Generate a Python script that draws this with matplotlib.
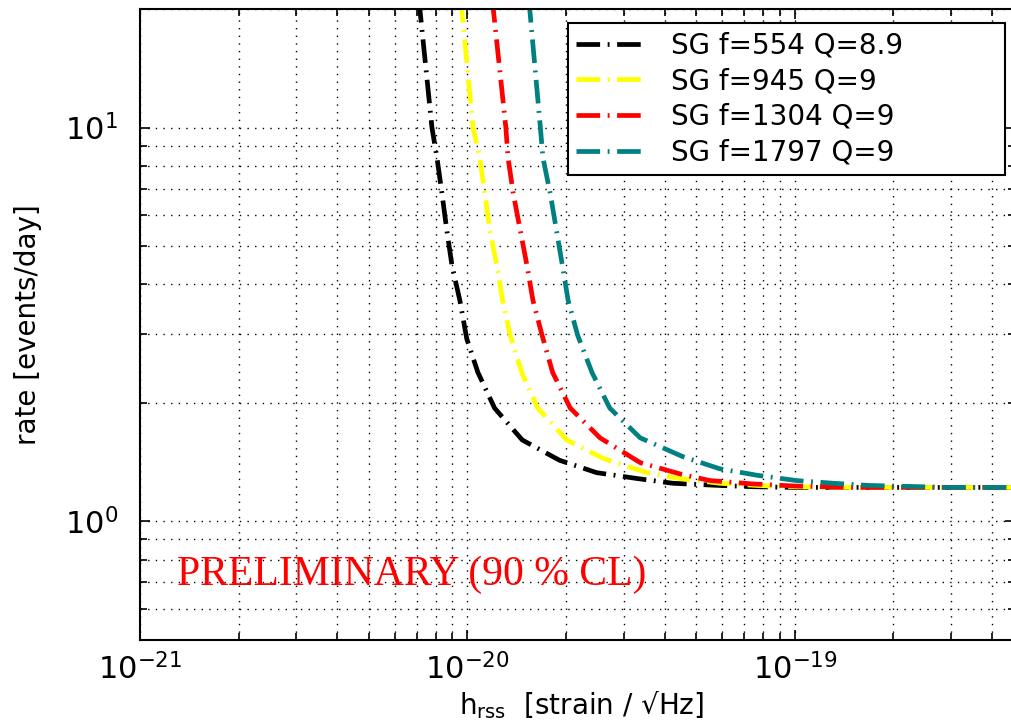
import matplotlib
matplotlib.use("Agg")
import matplotlib.pyplot as plt
from matplotlib.ticker import LogLocator, NullFormatter, FixedLocator

plt.rcParams['mathtext.fontset'] = 'dejavusans'
plt.rcParams['font.family'] = ['DejaVu Sans']

# ---- data ----
x_black = [6.95e-21, 7.16e-21, 7.79e-21, 8.07e-21, 8.36e-21, 8.65e-21, 8.97e-21, 9.48e-21,
           9.95e-21, 1.076e-20, 1.21e-20, 1.47e-20, 1.91e-20, 2.48e-20, 3.30e-20, 4.24e-20,
           5.9e-20, 7.45e-20, 1.0e-19, 2.0e-19, 4.8e-19]
y_black = [25, 19.9, 10, 8.39, 6.80, 5.48, 4.46, 3.64,
           2.91, 2.39, 1.94, 1.61, 1.43, 1.33, 1.285, 1.25,
           1.234, 1.225, 1.22, 1.22, 1.22]

x_yellow = [9.35e-21, 9.61e-21, 1.04e-20, 1.09e-20, 1.13e-20, 1.17e-20, 1.23e-20, 1.28e-20,
            1.35e-20, 1.47e-20, 1.64e-20, 2.01e-20, 2.60e-20, 3.53e-20, 4.46e-20, 5.9e-20,
            7.66e-20, 1.0e-19, 1.5e-19, 4.8e-19]
y_yellow = [25, 19.9, 10, 8.39, 6.80, 5.48, 4.46, 3.64,
            2.97, 2.37, 1.94, 1.61, 1.445, 1.33, 1.285, 1.25,
            1.234, 1.225, 1.22, 1.22]

x_red = [1.17e-20, 1.20e-20, 1.31e-20, 1.33e-20, 1.38e-20, 1.45e-20, 1.52e-20, 1.585e-20,
         1.69e-20, 1.82e-20, 2.06e-20, 2.54e-20, 3.37e-20, 4.46e-20, 5.5e-20, 7.45e-20,
         1.0e-19, 1.5e-19, 4.8e-19]
y_red = [25, 19.9, 10, 8.39, 6.80, 5.48, 4.46, 3.64,
         2.97, 2.39, 1.94, 1.63, 1.41, 1.32, 1.27, 1.245,
         1.23, 1.22, 1.22]

x_teal = [1.52e-20, 1.55e-20, 1.67e-20, 1.70e-20, 1.79e-20, 1.87e-20, 1.95e-20, 2.03e-20,
          2.17e-20, 2.40e-20, 2.72e-20, 3.37e-20, 4.55e-20, 5.9e-20, 7.66e-20, 1.01e-19,
          1.31e-19, 1.69e-19, 2.97e-19, 4.8e-19]
y_teal = [25, 19.9, 10, 8.39, 6.80, 5.48, 4.46, 3.64,
          2.97, 2.39, 1.94, 1.63, 1.46, 1.36, 1.31, 1.27,
          1.25, 1.234, 1.22, 1.22]

labels = ["SG f=554 Q=8.9", "SG f=945 Q=9", "SG f=1304 Q=9", "SG f=1797 Q=9"]
colors = ["#000000", "#ffff00", "#ff0000", "#008080"]
xs = [x_black, x_yellow, x_red, x_teal]
ys = [y_black, y_yellow, y_red, y_teal]

x_ticks = [1e-21, 1e-20, 1e-19]
x_ticklabels = [r'$\mathregular{10^{-21}}$', r'$\mathregular{10^{-20}}$', r'$\mathregular{10^{-19}}$']
y_ticks = [1e0, 1e1]
y_ticklabels = [r'$\mathregular{10^{0}}$', r'$\mathregular{10^{1}}$']

W, H = 1012, 728
fig = plt.figure(figsize=(W / 100, H / 100), dpi=100)
left_px, right_px, top_px, bottom_px = 140, 1015, 9, 640
ax = fig.add_axes([left_px / W, 1 - bottom_px / H, (right_px - left_px) / W, (bottom_px - top_px) / H])
ax.set_xscale('log')
ax.set_yscale('log')
ax.set_xlim(1e-21, 4.70e-19)
ax.set_ylim(0.5, 20)

for x, y, c, lab in zip(xs, ys, colors, labels):
    ax.plot(x, y, color=c, lw=3.4, linestyle=(0, (5.0, 1.6, 0.4, 1.6)), label=lab,
            dash_capstyle='butt')

ax.xaxis.set_major_locator(FixedLocator(x_ticks))
ax.set_xticklabels(x_ticklabels)
ax.yaxis.set_major_locator(FixedLocator(y_ticks))
ax.set_yticklabels(y_ticklabels)
ax.xaxis.set_minor_locator(LogLocator(base=10, subs=range(2, 10), numticks=20))
ax.yaxis.set_minor_locator(LogLocator(base=10, subs=range(2, 10), numticks=20))
ax.xaxis.set_minor_formatter(NullFormatter())
ax.yaxis.set_minor_formatter(NullFormatter())

ax.tick_params(which='both', direction='in', top=True, right=True, width=1.2, colors='black')
ax.tick_params(which='major', length=7, labelsize=22, pad=9)
ax.tick_params(which='minor', length=5)
ax.tick_params(axis='y', which='major', pad=16)

ax.grid(True, which='both', color='black', linestyle=(0, (1, 4.5)), linewidth=1.0)
ax.set_axisbelow(True)
for s in ax.spines.values():
    s.set_linewidth(1.5)

ax.set_xlabel(r'$\mathregular{h_{rss}}$' + u'  [strain / \u221aHz]', fontsize=20)
ax.xaxis.set_label_coords(0.505, -0.078)
ax.set_ylabel('rate [events/day]', fontsize=20)
ax.yaxis.set_label_coords(-0.112, 0.5)

ax.text(1.30e-21, 0.689, 'PRELIMINARY (90 % CL)', color='#ff0000', fontsize=30,
        family='Liberation Serif', va='baseline', ha='left')

leg = ax.legend(loc='upper left', bbox_to_anchor=(568 / W, 1 - 23 / H, (1005 - 568) / W, 0.0),
                bbox_transform=fig.transFigure, mode='expand', borderaxespad=0,
                fontsize=20, handlelength=2.5, handletextpad=0.9, borderpad=0.3,
                labelspacing=0.28, fancybox=False, framealpha=1, edgecolor='black')
leg.get_frame().set_linewidth(1.5)
for h in leg.get_lines():
    h.set_linewidth(3.4)

fig.savefig('out.png', dpi=100)
